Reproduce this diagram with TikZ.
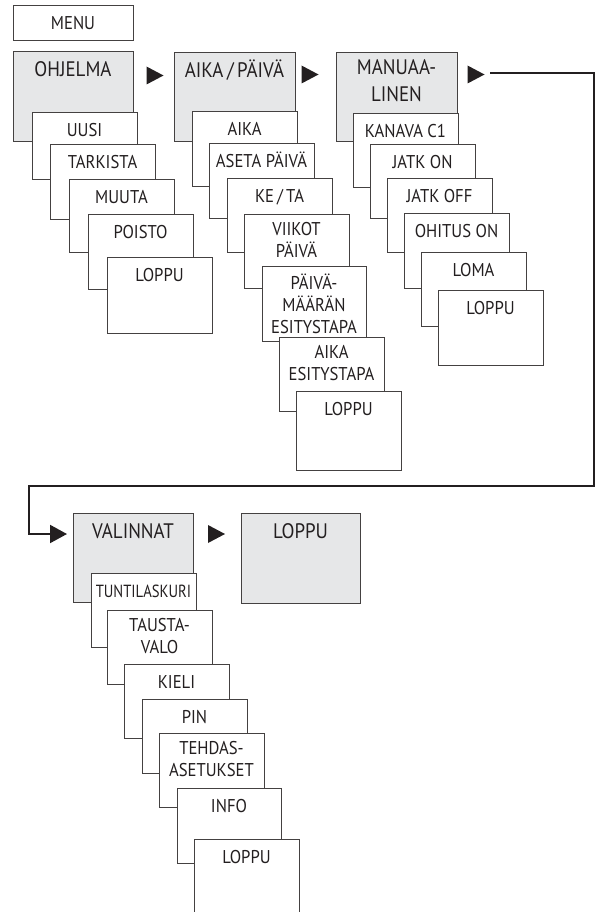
\documentclass[tikz,border=0pt]{standalone}
\usepackage{fontspec}
\setmainfont{PT Sans}[FakeStretch=0.9]
\usetikzlibrary{arrows.meta}
\definecolor{boxgray}{HTML}{E6E7E8}
\definecolor{ink}{HTML}{231F20}
\tikzset{
  box/.style={draw=ink!85, line width=0.9pt, fill=white, inner sep=0pt, outer sep=0pt, anchor=north west},
  gbox/.style={box, fill=boxgray},
  ctxt/.style={anchor=north, align=center, inner sep=0pt, font=\fontsize{18.5}{22}\selectfont, text=ink,
    execute at begin node={\rule{0pt}{16pt}}},
  ptxt/.style={anchor=north, align=center, inner sep=0pt, font=\fontsize{21}{27}\selectfont, text=ink,
    execute at begin node={\rule{0pt}{18pt}}},
  tri/.style={fill=ink},
  link/.style={draw=ink, line width=2pt, line join=miter, -{Triangle[length=17pt,width=18pt]}},
}
\newcommand\childbox[6]{%
  \node[box, minimum width={(#4-#2)*1pt}, minimum height={(#5-#3)*1pt}] (#1) at (#2,#3) {};
  \node[ctxt] (#1t) at ([yshift=-8pt]#1.north) {#6};}
\newcommand\parentbox[6]{%
  \node[gbox, minimum width={(#4-#2)*1pt}, minimum height={(#5-#3)*1pt}] (#1) at (#2,#3) {};
  \node[ptxt] (#1t) at ([yshift=-7.5pt]#1.north) {#6};}
\newcommand\marker[2]{\fill[tri] (#1,#2) +(-8.5,-9) -- +(8.5,0) -- +(-8.5,9) -- cycle;}
\begin{document}
\begin{tikzpicture}[x=1pt,y=-1pt]
\useasboundingbox (0,0) rectangle (596,912);
% MENU
\childbox{menu}{13}{5}{133}{40}{MENU}
% OHJELMA column
\parentbox{ohj}{13}{51}{133}{141}{OHJELMA}
\childbox{uusi}{32}{112}{137}{179}{UUSI}
\childbox{tark}{50}{144}{155}{219}{TARKISTA}
\childbox{muuta}{69}{179}{174}{252}{MUUTA}
\childbox{poisto}{88}{214}{193}{289}{POISTO}
\childbox{loppuA}{107}{257}{212}{333}{LOPPU}
% AIKA/PÄIVÄ column
\parentbox{aika}{174}{52}{295}{141}{AIKA\,/\,PÄIVÄ}
\childbox{aikab}{192}{111}{297}{186}{AIKA}
\childbox{aseta}{209}{143}{314}{218}{ASETA PÄIVÄ}
\childbox{keta}{227}{178}{332}{252}{KE\,/\,TA}
\childbox{viikot}{244}{214}{349}{288}{VIIKOT\\PÄIVÄ}
\childbox{pvm}{262}{266}{366}{341}{PÄIVÄ-\\MÄÄRÄN\\ESITYSTAPA}
\childbox{aikaes}{279}{337}{384}{411}{AIKA\\ESITYSTAPA}
\childbox{loppuB}{296}{391}{401}{470}{LOPPU}
% MANUAALINEN column
\parentbox{manu}{336}{52}{457}{141}{MANUAA-\\LINEN}
\childbox{kanava}{353}{113}{458}{187}{KANAVA C1}
\childbox{jatkon}{370}{144}{475}{218}{JATK ON}
\childbox{jatkoff}{387}{178}{492}{252}{JATK OFF}
\childbox{ohitus}{404}{213}{509}{288}{OHITUS ON}
\childbox{loma}{421}{252}{526}{326}{LOMA}
\childbox{loppuC}{438}{290}{543}{365}{LOPPU}
% markers between top items
\marker{155}{75.5}
\marker{310}{74.5}
\marker{476}{74.5}
% VALINNAT column
\parentbox{val}{73}{513}{193}{602}{VALINNAT}
\parentbox{loppuE}{241}{513}{360}{603}{LOPPU}
\marker{216.5}{534}
\childbox{tunti}{91}{573}{196}{647}{\scalebox{0.88}[0.95]{TUNTILASKURI}}
\childbox{tausta}{107}{610}{212}{684}{TAUSTA-\\VALO}
\childbox{kieli}{124}{664}{229}{738}{KIELI}
\childbox{pin}{142}{699}{247}{773}{PIN}
\childbox{tehdas}{159}{733}{264}{807}{TEHDAS-\\ASETUKSET}
\childbox{info}{177}{788}{281}{863}{INFO}
\childbox{loppuD}{194}{839}{299}{930}{LOPPU}
% connector from MANUAALINEN to VALINNAT
\coordinate (s) at (490,73.5);
\coordinate (rb) at (594,486);
\coordinate (lb) at (29,486);
\coordinate (vin) at (67,534);
\draw[link] (s) -| (rb) -- (lb) |- (vin);
\end{tikzpicture}
\end{document}
